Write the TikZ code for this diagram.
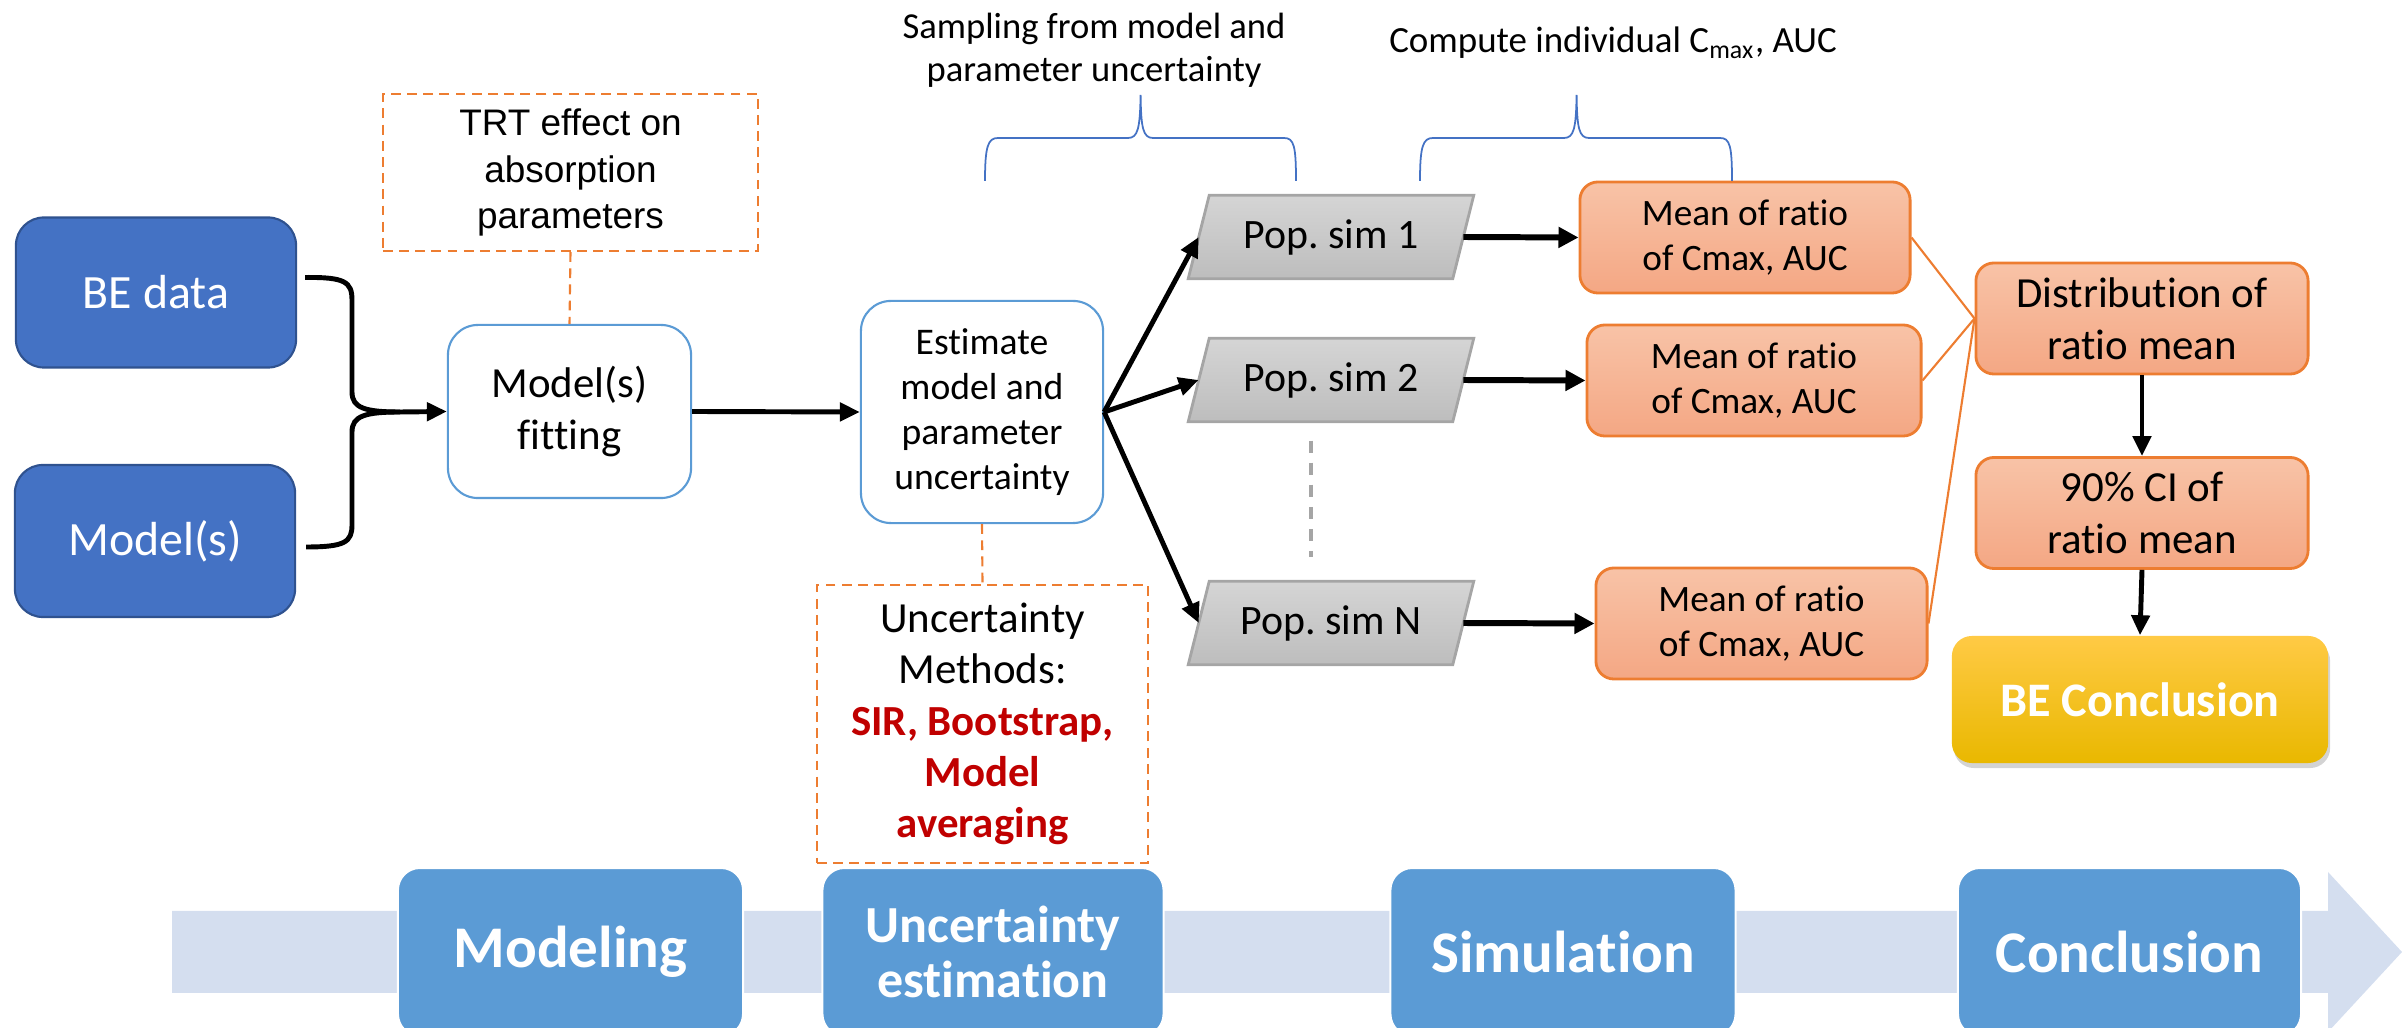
\documentclass[tikz,border=0pt]{standalone}
\usepackage{fontspec}
\setmainfont{Carlito}[Ligatures=CommonOff]
\newfontfamily\arialf{Liberation Sans}[Ligatures=CommonOff]
\usetikzlibrary{arrows.meta,calc,shadows}
\definecolor{beblue}{HTML}{4472C4}
\definecolor{bebluedark}{HTML}{2F528F}
\definecolor{lblue}{HTML}{5B9BD5}
\definecolor{orng}{HTML}{ED7D31}
\definecolor{otop}{HTML}{F8C3A7}
\definecolor{obot}{HTML}{F4A784}
\definecolor{dred}{HTML}{C00000}
\definecolor{band}{HTML}{D4DEEF}
\definecolor{gtop}{HTML}{D5D5D5}
\definecolor{gbot}{HTML}{BDBDBD}
\definecolor{gbord}{HTML}{A5A5A5}
\definecolor{ytop}{HTML}{FFCA45}
\definecolor{ymid}{HTML}{FFC000}
\definecolor{ybot}{HTML}{E9B800}
\pgfdeclarelayer{bg}
\pgfsetlayers{bg,main}
\begin{document}
\begin{tikzpicture}[x=0.01cm,y=-0.01cm,
  bluebox/.style={draw=bebluedark,line width=0.6pt,fill=beblue,rounded corners=0.28cm,text=white,font=\fontsize{13.6}{16}\selectfont,align=center,minimum width=2.8cm,minimum height=1.5cm},
  whitebox/.style={draw=lblue,line width=0.6pt,fill=white,rounded corners=0.3cm,align=center},
  dashbox/.style={draw=orng,line width=0.6pt,dash pattern=on 2.8pt off 1.8pt,align=center},
  orbox/.style={draw=orng,line width=0.8pt,top color=otop,bottom color=obot,rounded corners=0.18cm,align=center,font=\fontsize{10.6}{12.7}\selectfont,minimum height=1.11cm},
  popbox/.style={inner sep=0pt,minimum width=2.63cm,minimum height=0.82cm,font=\fontsize{11.9}{14}\selectfont},
  phase/.style={fill=lblue,draw=white,line width=0.6pt,rounded corners=0.22cm,text=white,font=\bfseries\fontsize{16.8}{18}\selectfont,align=center,minimum height=1.68cm},
  arr/.style={line width=1.4pt,-{Triangle[length=0.2cm,width=0.18cm]}},
  bigarr/.style={line width=1.7pt,-{Triangle[length=0.2cm,width=0.2cm]}},
  bracestyle/.style={draw=beblue,line width=0.5pt},
  conn/.style={draw=orng,line width=0.6pt},
]
\useasboundingbox (0,0) rectangle (2402,1028);
\clip (0,0) rectangle (2402,1028);

% bottom phase band
\fill[band] (172,911) -- (2328,911) -- (2328,872) -- (2402,952) -- (2328,1032) -- (2328,993) -- (172,993) -- cycle;
\node[phase,minimum width=3.45cm] (ph1) at (570.5,952) {Modeling};
\node[phase,minimum width=3.41cm,font=\bfseries\fontsize{14.8}{15.6}\selectfont] (ph2) at (993,952) {Uncertainty\\estimation};
\node[phase,minimum width=3.45cm] (ph3) at (1563,952) {Simulation};
\node[phase,minimum width=3.43cm] (ph4) at (2129.5,952) {Conclusion};

% input boxes
\node[bluebox] (bed) at (156,292.5) {BE data};
\node[bluebox,minimum height=1.52cm] (mods) at (155,541) {Model(s)};

% modeling
\node[whitebox,minimum width=2.43cm,minimum height=1.73cm,font=\fontsize{12.2}{14.8}\selectfont] (fit) at (569.5,411.5) {Model(s)\\fitting};
\node[dashbox,minimum width=3.75cm,minimum height=1.57cm,font=\arialf\fontsize{10.5}{13.1}\selectfont] (trt) at (570.5,172.5) {TRT effect on\\absorption\\parameters};
\draw[conn,dash pattern=on 2.8pt off 1.8pt] (trt.south) -- (fit.north);

% bracket
\coordinate (bj) at (400,412);
\draw[line width=1.4pt] ($(bed.east)+(8,-15)$) .. controls (345,277) and (352,282) .. (352,300) -- (352,392) .. controls (352,408) and (365,412) .. (bj);
\draw[line width=1.4pt] ($(mods.east)+(10,6)$) .. controls (345,547) and (352,542) .. (352,525) -- (352,432) .. controls (352,416) and (365,412) .. (bj);
\draw[arr] (bj) -- (fit.west);

% uncertainty
\node[whitebox,minimum width=2.42cm,minimum height=2.22cm,font=\fontsize{10.7}{12.8}\selectfont] (est) at (982,412) {Estimate\\model and\\parameter\\uncertainty};
\draw[arr] (fit.east) -- (est.west);
\node[dashbox,minimum width=3.31cm,minimum height=2.78cm,font=\fontsize{12.2}{14.6}\selectfont] (unc) at (982.5,724) {Uncertainty\\Methods:\\\textcolor{dred}{\bfseries SIR, Bootstrap,}\\\textcolor{dred}{\bfseries Model}\\\textcolor{dred}{\bfseries averaging}};
\draw[conn,dash pattern=on 2.8pt off 1.8pt] (est.south) -- (unc.north);

% simulations
\node[popbox] (p1) at (1331,237) {Pop.\ sim 1};
\node[popbox] (p2) at (1331,380) {Pop.\ sim 2};
\node[popbox] (pN) at (1331,623) {Pop.\ sim N};
\begin{pgfonlayer}{bg}
\foreach \n in {p1,p2,pN}
  \draw[draw=gbord,line width=0.8pt,top color=gtop,bottom color=gbot]
    ($(\n.south west)+(-10.5,0)$) -- ($(\n.north west)+(10.5,0)$) -- ($(\n.north east)+(10.5,0)$) -- ($(\n.south east)+(-10.5,0)$) -- cycle;
\end{pgfonlayer}
\draw[arr] (est.east) -- (p1.west);
\draw[arr] (est.east) -- (p2.west);
\draw[arr] (est.east) -- (pN.west);
\draw[draw=gbord,line width=1.2pt,dash pattern=on 0.12cm off 0.1cm] ($(p2.south)+(-20,19)$) -- ($(pN.north)+(-20,-24)$);

% means
\node[orbox,minimum width=3.30cm] (m1) at (1745,237.5) {Mean of ratio\\of Cmax, AUC};
\node[orbox,minimum width=3.34cm] (m2) at (1754,380.5) {Mean of ratio\\of Cmax, AUC};
\node[orbox,minimum width=3.31cm] (m3) at (1761.5,623.5) {Mean of ratio\\of Cmax, AUC};
\draw[bigarr] (p1.east) -- (m1.west);
\draw[bigarr] (p2.east) -- (m2.west);
\draw[bigarr] (pN.east) -- (m3.west);

% conclusion
\node[orbox,minimum width=3.32cm,font=\fontsize{12.2}{14.8}\selectfont] (dist) at (2142,318.5) {Distribution of\\ratio mean};
\node[orbox,minimum width=3.32cm,font=\fontsize{12.2}{14.8}\selectfont] (ci) at (2142,513) {90\% CI of\\ratio mean};
\node[rounded corners=0.2cm,top color=ytop,middle color=ymid,bottom color=ybot,minimum width=3.76cm,minimum height=1.27cm,text=white,font=\bfseries\fontsize{13.7}{16}\selectfont,drop shadow={shadow xshift=0.02cm,shadow yshift=-0.05cm,opacity=0.35}] (bec) at (2140,699.5) {BE Conclusion};
\draw[conn] (m1.east) -- (dist.west);
\draw[conn] (m2.east) -- (dist.west);
\draw[conn] (m3.east) -- (dist.west);
\draw[arr] (dist.south) -- (ci.north);
\draw[arr] (ci.south) -- (bec.north);

% annotations and braces
\node[align=center,font=\fontsize{10.4}{12.2}\selectfont] (samp) at (1094,50) {Sampling from model and\\parameter uncertainty};
\node[anchor=base,font=\fontsize{10.5}{12.6}\selectfont] (comp) at (1613,53) {Compute individual C\textsubscript{max}, AUC};
\draw[bracestyle] (985,181) .. controls (985,146) and (988,138) .. (998,138) -- (1128,138) .. controls (1138,138) and (1140,128) .. (1140.6,95) .. controls (1141,128) and (1143,138) .. (1153,138) -- (1284,138) .. controls (1294,138) and (1296,146) .. (1296,181);
\draw[bracestyle] (1420,181) .. controls (1420,146) and (1423,138) .. (1433,138) -- (1564,138) .. controls (1574,138) and (1576,128) .. (1576.6,95) .. controls (1577,128) and (1579,138) .. (1589,138) -- (1720,138) .. controls (1730,138) and (1732,146) .. (1732,181);
\end{tikzpicture}
\end{document}
